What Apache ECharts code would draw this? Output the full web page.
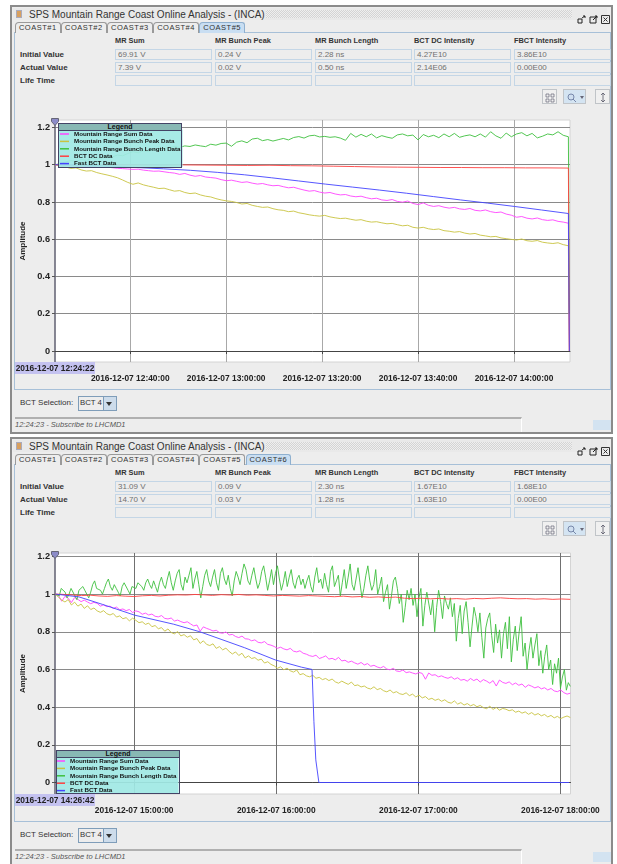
<!DOCTYPE html>
<html><head><meta charset="utf-8">
<script src="https://cdn.jsdelivr.net/npm/echarts@6/dist/echarts.min.js"></script>
<style>
html,body{margin:0;padding:0;background:#fff;width:617px;height:864px;overflow:hidden;font-family:"Liberation Sans",sans-serif}
body{filter:blur(.35px)}
.a{position:absolute;white-space:nowrap}
#chart{position:absolute;left:0;top:0;width:617px;height:864px;z-index:5}
.ov{z-index:9}
.field{position:absolute;height:9px;border:1px solid #c4d6e6;background:#ededed;font-size:8px;line-height:9px;color:#707070;padding-left:2px;width:93px}
.tab{position:absolute;top:22px;height:10px;border:1px solid #9a9a9a;border-bottom:none;border-radius:4px 3px 0 0;background:#ededed;font-size:7.5px;line-height:10px;text-align:center;color:#333;letter-spacing:.5px}
.tab.sel{background:#c9def2;border-color:#8fb0cf}
.b{font-weight:bold;color:#333;font-size:8px}
.h{font-size:7.4px}
</style></head><body><div id="chart"></div>
<script>
// ---------- text content ----------
const windowTitle = "SPS Mountain Range Coast Online Analysis - (INCA)";
const columnHeaders = ["MR Sum","MR Bunch Peak","MR Bunch Length","BCT DC Intensity","FBCT Intensity"];
const rowLabels = ["Initial Value","Actual Value","Life Time"];
const seriesNames = ["Mountain Range Sum Data","Mountain Range Bunch Peak Data","Mountain Range Bunch Length Data","BCT DC Data","Fast BCT Data"];
const seriesColors = ["#ff45ff","#c9c340","#3fc03f","#ff4040","#4444ff"];
const topTabs = ["COAST#1","COAST#2","COAST#3","COAST#4","COAST#5"];
const bottomTabs = ["COAST#1","COAST#2","COAST#3","COAST#4","COAST#5","COAST#6"];
const topInitial = ["69.91 V","0.24 V","2.28 ns","4.27E10","3.86E10"];
const topActual = ["7.39 V","0.02 V","0.50 ns","2.14E06","0.00E00"];
const bottomInitial = ["31.09 V","0.09 V","2.30 ns","1.67E10","1.68E10"];
const bottomActual = ["14.70 V","0.03 V","1.28 ns","1.63E10","0.00E00"];
const yTicks = [0,0.2,0.4,0.6,0.8,1,1.2];
const topXTicks = ["2016-12-07 12:40:00","2016-12-07 13:00:00","2016-12-07 13:20:00","2016-12-07 13:40:00","2016-12-07 14:00:00"];
const bottomXTicks = ["2016-12-07 15:00:00","2016-12-07 16:00:00","2016-12-07 17:00:00","2016-12-07 18:00:00"];

// ---------- top panel (COAST#5) ----------
const topStart = "2016-12-07 12:24:22", topEnd = "2016-12-07 14:11:20", topDrop = "2016-12-07 14:11:32";
const topAxisMin = "2016-12-07 12:24:19", topAxisMax = "2016-12-07 14:11:40";
const topPink = [1.000,.998,.996,.997,.993,.992,.990,.991,.988,.986,.987,.984,.981,.979,.977,.975,.976,.971,.968,.965,.966,.962,.958,.955,.948,.953,.944,.938,.942,.934,.931,.928,.920,.914,.917,.911,.905,.908,.901,.896,.899,.892,.887,.889,.882,.876,.879,.871,.864,.858,.861,.853,.848,.851,.843,.838,.840,.832,.828,.831,.823,.817,.820,.811,.808,.813,.803,.799,.805,.792,.786,.795,.782,.776,.780,.772,.767,.771,.763,.760,.765,.755,.752,.757,.748,.743,.746,.735,.729,.718,.722,.713,.709,.714,.705,.701,.704,.696,.692,.686];
const topYellow = [1.000,.992,.988,.980,.983,.972,.966,.968,.958,.951,.945,.938,.930,.918,.905,.895,.902,.892,.885,.879,.872,.874,.866,.858,.861,.851,.845,.848,.838,.831,.827,.818,.811,.806,.803,.797,.789,.792,.782,.776,.771,.773,.764,.758,.755,.748,.751,.742,.737,.731,.727,.724,.728,.720,.715,.711,.713,.707,.702,.705,.697,.692,.694,.688,.683,.685,.678,.672,.675,.664,.660,.664,.656,.652,.655,.646,.643,.638,.641,.633,.628,.631,.622,.618,.613,.615,.607,.603,.599,.596,.601,.592,.589,.593,.584,.580,.577,.581,.571,.565];
const topGreen = [1.000,1.006,1.015,1.022,1.018,1.028,1.024,1.033,1.029,1.037,1.045,1.041,1.052,1.048,1.060,1.070,1.064,1.075,1.072,1.081,1.078,1.088,1.092,1.097,1.093,1.101,1.098,1.106,1.101,1.097,1.110,1.105,1.114,1.116,1.099,1.121,1.128,1.118,1.138,1.142,1.129,1.135,1.127,1.134,1.141,1.133,1.146,1.151,1.143,1.155,1.158,1.149,1.152,1.147,1.150,1.143,1.131,1.168,1.148,1.163,1.150,1.165,1.144,1.156,1.148,1.142,1.160,1.165,1.155,1.159,1.133,1.162,1.150,1.158,1.145,1.165,1.150,1.168,1.147,1.155,1.160,1.150,1.165,1.148,1.177,1.155,1.142,1.170,1.150,1.165,1.172,1.155,1.168,1.144,1.153,1.165,1.160,1.177,1.158,1.150];
const topRed = [1.000,1.000,.999,1.000,.999,.998,.999,.998,.997,.996,.997,.995,.994,.992,.990,.988,.987,.986,.985,.985,.984,.984,.983,.983,.982];
const topBlue = [1.000,.998,.993,.985,.978,.970,.959,.946,.930,.913,.896,.880,.864,.847,.829,.811,.794,.776,.757,.738];
const topDropValues = [0,0,0.2,0,0];

// ---------- bottom panel (COAST#6) ----------
const botStart = "2016-12-07 14:26:42", botEnd = "2016-12-07 18:04:10";
const botAxisMin = "2016-12-07 14:26:34", botAxisMax = "2016-12-07 18:04:15";
const botPink = [1.000,.992,.962,.988,.978,.955,.982,.972,.960,.968,.958,.949,.956,.951,.936,.943,.933,.936,.924,.931,.917,.921,.912,.918,.902,.911,.906,.893,.899,.889,.894,.882,.879,.886,.871,.868,.873,.857,.862,.854,.848,.853,.842,.831,.836,.803,.826,.818,.812,.804,.808,.795,.792,.799,.783,.786,.775,.769,.777,.763,.761,.752,.757,.744,.741,.748,.733,.729,.722,.712,.718,.709,.704,.712,.697,.693,.699,.686,.681,.673,.669,.676,.658,.664,.672,.655,.659,.651,.664,.645,.649,.638,.644,.635,.628,.637,.624,.631,.617,.622,.613,.608,.616,.602,.598,.606,.592,.589,.597,.583,.587,.581,.576,.584,.579,.548,.581,.569,.572,.561,.566,.558,.553,.561,.548,.556,.543,.547,.538,.552,.541,.549,.533,.546,.538,.527,.541,.512,.544,.531,.526,.534,.519,.528,.516,.523,.505,.518,.511,.502,.509,.497,.503,.491,.499,.486,.482,.491,.477,.469,.474];
const botYellow = [1.000,.983,.968,.958,.971,.942,.957,.936,.947,.924,.938,.918,.926,.911,.903,.912,.896,.889,.897,.878,.884,.869,.875,.858,.872,.861,.848,.853,.839,.846,.827,.833,.816,.822,.803,.815,.796,.789,.801,.778,.785,.771,.779,.757,.764,.738,.752,.733,.727,.736,.712,.721,.704,.713,.696,.682,.693,.674,.686,.661,.672,.658,.663,.649,.655,.634,.641,.627,.619,.606,.614,.598,.607,.593,.586,.597,.572,.578,.566,.561,.569,.553,.558,.546,.552,.541,.549,.534,.527,.538,.529,.521,.533,.514,.518,.507,.512,.501,.496,.508,.493,.499,.487,.481,.491,.476,.482,.471,.467,.476,.461,.469,.454,.464,.449,.456,.441,.447,.436,.443,.431,.439,.426,.421,.433,.416,.424,.411,.419,.407,.414,.402,.409,.397,.392,.405,.388,.398,.384,.393,.389,.381,.386,.373,.379,.368,.375,.362,.371,.358,.366,.354,.361,.348,.356,.343,.351,.339,.347,.353,.345];
const botGreen = [1.00,1.01,.99,1.03,1.04,1.01,.98,1.00,1.03,1.02,.99,.97,1.02,1.01,1.04,1.02,1.00,.98,1.01,1.05,1.07,1.03,1.04,1.02,1.00,1.03,1.06,1.08,1.04,1.02,1.05,1.03,1.01,.99,1.04,1.06,1.05,1.02,1.00,1.04,
1.05,1.03,1.06,1.07,1.04,1.02,1.06,1.08,1.05,1.03,1.07,1.04,1.01,1.06,1.09,1.05,1.03,1.08,1.12,1.06,1.02,1.07,1.11,1.13,1.05,1.02,1.09,1.06,1.10,1.14,1.03,1.08,1.12,1.05,.98,1.04,1.10,1.13,1.07,1.04,
1.09,1.13,1.06,1.02,1.11,1.14,1.08,1.05,1.10,1.03,.99,1.07,1.12,1.09,1.05,1.11,1.16,1.13,1.07,1.05,1.10,1.14,1.08,1.03,1.06,1.12,1.15,1.09,1.02,1.07,1.13,1.05,1.11,1.15,1.08,1.02,1.06,1.12,1.04,1.09,
1.13,1.06,1.03,1.08,1.10,1.05,1.08,1.03,1.07,1.10,1.04,1.01,1.09,1.14,1.06,1.08,1.03,1.11,1.05,1.01,1.12,1.15,1.04,1.07,1.10,.99,1.06,1.13,1.03,1.09,1.16,1.05,1.02,1.08,1.14,1.06,.98,1.03,1.10,1.15,
1.07,1.02,1.05,1.13,1.00,1.04,1.09,.96,1.01,1.05,.92,.99,1.07,1.09,1.03,.95,1.00,.85,.93,1.02,.97,1.03,.94,1.00,.88,.98,1.03,.83,.94,1.01,1.02,.89,.97,.80,.93,1.02,.96,.87,.99,.95,
.92,.98,.88,.95,.75,.87,.94,.79,.91,.96,.85,.72,.83,.93,.88,.80,.90,.77,.66,.82,.87,.90,.78,.69,.84,.74,.81,.66,.79,.85,.71,.88,.64,.76,.83,.70,.80,.88,.67,.74,
.60,.70,.77,.66,.73,.79,.62,.70,.58,.67,.73,.60,.65,.52,.63,.58,.66,.50,.56,.60,.49,.53,.51];
const botRed = [1.000,.998,.995,.992,.994,.990,.988,.992,.989,.987,.991,.993,.990,.994,.996,.995,.998,.996,.993,.997,.995,.998,.994,.996,.993,.990,.993,.991,.989,.992,.990,.988,.986,.989,.985,.987,.983,.985,.982,.984,.978,.976,.978,.975,.977,.974,.976,.973,.977,.975,.978,.980,.977,.975,.976,.973,.975,.972,.974,.972];
const blueMinutes = [0,10,20,33.5,50,61,70,80,93,104,108.4,109.2,110,111.3,217];
const blueValues = [1.000,.985,.945,.888,.840,.800,.760,.715,.650,.612,.600,.323,.120,0,0];

// ---------- scales and series ----------
const ms = s => new Date(s.replace(" ","T")+"Z").getTime();
function spread(start,end,values){
  const a=ms(start), b=ms(end), n=values.length-1;
  return values.map((v,i)=>[a+(b-a)*i/n,v]);
}
function series(name,color,data,idx){
  return {name,type:'line',xAxisIndex:idx,yAxisIndex:idx,data,showSymbol:false,symbol:'none',
    lineStyle:{color,width:1,opacity:.9},itemStyle:{color},animation:false,clip:true};
}
const topLists=[topPink,topYellow,topGreen,topRed,topBlue];
const botLists=[botPink,botYellow,botGreen,botRed];
const out=[];
topLists.forEach((vals,i)=>{
  const d=spread(topStart,topEnd,vals); d.push([ms(topDrop),topDropValues[i]]);
  out.push(series(seriesNames[i],seriesColors[i],d,0));
});
botLists.forEach((vals,i)=>out.push(series(seriesNames[i],seriesColors[i],spread(botStart,botEnd,vals),1)));
out.push(series(seriesNames[4],seriesColors[4],blueMinutes.map((m,i)=>[ms(botStart)+m*60000,blueValues[i]]),1));

const FONT='"Liberation Sans",sans-serif';
const boldText=(size,color)=>({fontFamily:FONT,fontWeight:'bold',fontSize:size,color});
function xAxis(idx,min,max,ticks,vcolor){
  const vals=ticks.map(ms);
  return {type:'value',gridIndex:idx,min:ms(min),max:ms(max),
    axisLine:{lineStyle:{color:'#444',width:1}},
    axisTick:{customValues:vals,length:3,lineStyle:{color:'#444'}},
    axisLabel:Object.assign({customValues:vals,margin:13,hideOverlap:false,showMinLabel:true,showMaxLabel:true,
      formatter:v=>ticks[vals.indexOf(+v)]||''},boldText(8.4,'#222')),
    splitLine:{show:true,lineStyle:{color:vcolor,width:1}}};
}
function yAxis(idx,min,max){
  return {type:'value',gridIndex:idx,min,max,name:'Amplitude',nameLocation:'middle',nameGap:12,
    nameTextStyle:boldText(8,'#222'),
    axisLine:{show:true,lineStyle:{color:'#667',width:1.5}},
    axisTick:{show:true,customValues:yTicks,length:3,lineStyle:{color:'#555'}},
    axisLabel:Object.assign({customValues:yTicks,margin:5,showMinLabel:true,showMaxLabel:true,
      formatter:v=>String(+(+v).toFixed(1))},boldText(9.2,'#222')),
    splitLine:{show:true,lineStyle:{color:'#8a8a8a',width:1}}};
}
function legend(left,top,pad,iconW){
  return {data:seriesNames,orient:'vertical',left,top,padding:[1,2,0,pad],itemGap:0.4,itemWidth:iconW,itemHeight:1.5,icon:'rect',
    backgroundColor:'rgba(160,232,228,.93)',borderWidth:0,selectedMode:false,
    textStyle:Object.assign({height:7,lineHeight:7},boldText(6.2,'#111'))};
}
const chart=echarts.init(document.getElementById('chart'),null,{renderer:'canvas'});
chart.setOption({
  backgroundColor:'transparent',animation:false,useUTC:true,
  grid:[
    {left:55,top:120,width:515,height:242,show:true,backgroundColor:'#fff',borderColor:'#d4d4d4',borderWidth:1,containLabel:false},
    {left:55,top:553,width:515.5,height:241,show:true,backgroundColor:'#fff',borderColor:'#d4d4d4',borderWidth:1,containLabel:false}
  ],
  xAxis:[xAxis(0,topAxisMin,topAxisMax,topXTicks,'#a8a8a8'),xAxis(1,botAxisMin,botAxisMax,bottomXTicks,'#707070')],
  yAxis:[yAxis(0,-0.059,1.24),yAxis(1,-0.061,1.218)],
  legend:[legend(58,129.5,2,9),legend(56,756.5,1,8)],
  series:out
});

// ---------- window chrome ----------
function el(cls,style,text,z){
  const d=document.createElement('div');d.className=cls;d.style.cssText=style;
  if(text!=null)d.textContent=text;document.body.appendChild(d);return d;
}
function drawWindow(off,h,tabs,initial,actual,startLabel,legendBox,plotTop){
  const T=y=>(y+off)+'px';
  el('a','left:10px;top:'+T(5)+';width:599px;height:'+h+'px;background:#ededed;border:2px solid #8b8b8b;z-index:0');
  // title bar
  el('a','left:13px;top:'+T(8)+';width:594px;height:12px;background:#e9e9e9;z-index:1');
  el('a','left:266px;top:'+T(10)+';width:306px;height:8px;z-index:1;background:repeating-conic-gradient(#d4d4d4 0 25%,#efefef 0 50%) 0 0/2px 2px');
  el('a','left:16px;top:'+T(10)+';width:6px;height:8px;background:#d8a060;border:1px solid #aab;box-sizing:border-box;z-index:1');
  el('a','left:29px;top:'+T(8)+';font-size:10px;line-height:13px;color:#333;z-index:2;letter-spacing:0',windowTitle);
  const ico=(x,svg)=>{const d=el('a','left:'+x+'px;top:'+T(10)+';width:9px;height:9px;z-index:2');d.innerHTML='<svg width="9" height="9">'+svg+'</svg>';};
  ico(577,'<path d="M1 4v4h4V4zM5 3l3-2M6 1h2v2" fill="none" stroke="#222"/>');
  ico(589,'<path d="M1 2v6h6V2zM4 5l4-4M6 1h2v2" fill="none" stroke="#222"/>');
  ico(601,'<path d="M.5 .5h8v8h-8zM2.5 2.5l4 4M6.5 2.5l-4 4" fill="none" stroke="#333"/>');
  // tab pane
  el('a','left:14px;top:'+T(32)+';width:595px;height:356px;border:1px solid #a7c0d8;z-index:0;background:#ededed');
  tabs.forEach((t,i)=>{
    const sel=i===tabs.length-1;
    const x=15+i*46.1;
    el('tab'+(sel?' sel':''),'left:'+x+'px;top:'+T(22)+';width:43.5px;z-index:2',t);
  });
  const colX=[115,215,315,414,514];
  columnHeaders.forEach((t,i)=>el('a b h','left:'+colX[i]+'px;top:'+T(35.5)+';line-height:9px;z-index:2',t));
  const rowY=[49,62,75];
  rowLabels.forEach((t,i)=>el('a b','left:20px;top:'+T(rowY[i]+0.5)+';line-height:9px;z-index:2',t));
  [initial,actual,null].forEach((row,r)=>{
    colX.forEach((x,c)=>{
      el('field','left:'+x+'px;top:'+T(rowY[r])+';z-index:2',row?row[c]:'');
    });
  });
  // toolbar buttons
  const btn=(x,w,svg)=>{const d=el('a','left:'+x+'px;top:'+T(89)+';width:'+w+'px;height:13px;border:1px solid #c0c4c8;background:#f0f0f0;z-index:2');
    d.innerHTML='<svg width="'+w+'" height="13">'+svg+'</svg>';return d;};
  btn(542,13,'<path d="M3 3h3v3h-3zM8 3h3v3h-3zM3 8h3v3h-3zM8 8h3v3h-3z" fill="none" stroke="#667" stroke-width=".7"/>');
  btn(563,21,'<circle cx="7" cy="6" r="3" fill="#cfdff0" stroke="#78a"/><path d="M9 8l3 3" stroke="#78a"/><path d="M16 5l2 3 2-3z" fill="#667"/>').style.background='#d4e4f2';
  btn(595,13,'<path d="M7 2v9M5 4l2-2 2 2M5 9l2 2 2-2" fill="none" stroke="#556" stroke-width=".8"/>');
  // selection row
  el('a','left:20px;top:'+T(398)+';font-size:8px;line-height:10px;color:#333;z-index:2','BCT Selection:');
  el('a','left:78px;top:'+T(396)+';width:37px;height:13px;border:1px solid #7f9db9;background:#ededed;z-index:2');
  el('a','left:80px;top:'+T(398)+';font-size:7.8px;line-height:10px;color:#333;z-index:3','BCT 4');
  el('a','left:103px;top:'+T(397)+';width:12px;height:13px;background:#cddceb;border-left:1px solid #7f9db9;z-index:3');
  el('a','left:106px;top:'+T(402)+';width:0;height:0;border-left:3px solid transparent;border-right:3px solid transparent;border-top:4px solid #333;z-index:4');
  // status bar
  el('a','left:15px;top:'+T(417)+';width:506px;height:13px;border-top:2px solid #b0b0b0;border-right:1px solid #fff;z-index:2');
  el('a','left:15px;top:'+T(420)+';font-size:7.5px;line-height:9px;font-style:italic;color:#555;z-index:3','12:24:23 - Subscribe to LHCMD1');
  el('a','left:593px;top:'+T(420)+';width:18px;height:10px;background:#d3e3f1;z-index:3');
  // start-time flag and marker
  el('a ov','left:15px;top:'+T(362)+';width:80px;height:12px;background:#c4c2f0;font:bold 8.4px/12px '+FONT+';color:#222;text-align:center',startLabel);
  // legend header
  el('a ov','left:'+legendBox[0]+'px;top:'+legendBox[1]+'px;width:'+legendBox[2]+'px;height:6px;background:#88b8b4;font:bold 7px/6px '+FONT+';color:#111;text-align:center;border:1px solid #446','Legend');
  el('a ov','left:'+legendBox[0]+'px;top:'+(legendBox[1]+7)+'px;width:'+legendBox[2]+'px;height:'+legendBox[3]+'px;border:1px solid #446;border-top:none;box-sizing:content-box');
  const m=el('a ov','left:51px;top:'+(plotTop-8)+'px;width:8px;height:8px');
  m.innerHTML='<svg width="8" height="8"><path d="M.5 .5h7v3l-3.5 4-3.5-4z" fill="#8c8cc8" stroke="#667"/></svg>';
}
drawWindow(0,425,topTabs,topInitial,topActual,"2016-12-07 12:24:22",[58,123,122,36.5],120);
drawWindow(432,427,bottomTabs,bottomInitial,bottomActual,"2016-12-07 14:26:42",[56,749.5,122,36.5],553);
</script></body></html>
